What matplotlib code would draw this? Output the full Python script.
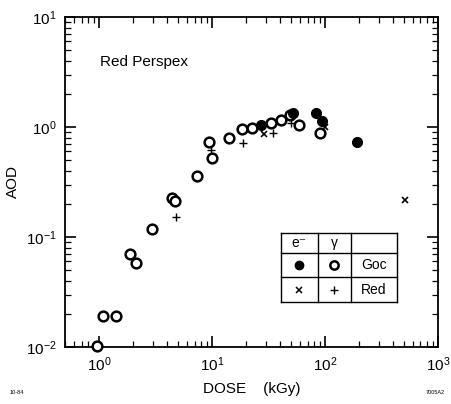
import matplotlib
matplotlib.use("Agg")
import matplotlib.pyplot as plt
from matplotlib.lines import Line2D

plt.rcParams['font.family'] = ['Liberation Sans', 'DejaVu Sans']
plt.rcParams['mathtext.fontset'] = 'custom'
plt.rcParams['mathtext.rm'] = 'Liberation Sans'

# Gamma, Goc (open circles)
goc_gamma_dose = [0.96, 1.08, 1.41, 1.88, 2.12, 2.94, 4.43, 4.71, 7.37, 9.4, 10.0,
                  14.1, 18.4, 22.6, 33.2, 40.8, 49.0, 58.9, 90.0]
goc_gamma_aod = [0.0103, 0.019, 0.019, 0.070, 0.058, 0.118, 0.226, 0.212, 0.359, 0.73, 0.52,
                 0.79, 0.96, 0.98, 1.09, 1.16, 1.29, 1.04, 0.88]
# Electron, Goc (filled circles)
goc_e_dose = [27.4, 52.0, 83.0, 94.0, 191.0]
goc_e_aod = [1.04, 1.33, 1.33, 1.14, 0.73]
# Electron, Red (x)
red_e_dose = [28.7, 100.0, 510.0]
red_e_aod = [0.87, 1.0, 0.217]
# Gamma, Red (+)
red_gamma_dose = [4.8, 9.7, 18.8, 34.7, 50.0]
red_gamma_aod = [0.152, 0.62, 0.72, 0.88, 1.08]

fig = plt.figure(figsize=(4.52, 4.04), dpi=100)
ax = fig.add_axes([65/452, (404-347)/404, 373/452, 330/404])
ax.set_xscale('log')
ax.set_yscale('log')
ax.set_xlim(0.5, 1000)
ax.set_ylim(0.01, 10)

ax.plot(goc_gamma_dose, goc_gamma_aod, 'o', ms=7, mfc='white', mec='black', mew=1.8,
        ls='none', clip_on=False, zorder=3)
ax.plot(goc_e_dose, goc_e_aod, 'o', ms=7, mfc='black', mec='black', ls='none',
        clip_on=False, zorder=4)
ax.plot(red_e_dose, red_e_aod, 'x', ms=4.5, mew=1.2, color='black', ls='none', zorder=4)
ax.plot(red_gamma_dose, red_gamma_aod, '+', ms=6, mew=1.0, color='black', ls='none', zorder=4)

ax.tick_params(which='both', direction='in', top=True, right=True, labelsize=11, pad=6)
ax.tick_params(which='major', length=8, width=1.2)
ax.tick_params(which='minor', length=4, width=0.9)
for s in ax.spines.values():
    s.set_linewidth(1.3)

ax.set_xlabel('DOSE    (kGy)', fontsize=11, labelpad=6)
ax.set_ylabel('AOD', fontsize=11, labelpad=4)

ax.text(0.094, 0.864, 'Red Perspex', transform=ax.transAxes, fontsize=11, va='center', ha='left')

# Legend table
T = ax.transAxes
xl, x1, x2, xr = 0.579, 0.678, 0.767, 0.890
yt, y1, y2, yb = 0.345, 0.285, 0.212, 0.136
for (xa, ya, xb, yb_) in [(xl, yt, xr, yt), (xl, y1, xr, y1), (xl, y2, xr, y2), (xl, yb, xr, yb),
                           (xl, yt, xl, yb), (x1, yt, x1, yb), (x2, yt, x2, yb), (xr, yt, xr, yb)]:
    ax.add_line(Line2D([xa, xb], [ya, yb_], transform=T, color='black', lw=1.0))
cx0, cx1, cx2 = (xl + x1) / 2, (x1 + x2) / 2, (x2 + xr) / 2
r0, r1, r2 = (yt + y1) / 2, (y1 + y2) / 2, (y2 + yb) / 2
ax.text(cx0, r0, 'e\u207b', transform=T, ha='center', va='center', fontsize=10)
ax.text(cx1, r0, '\u03b3', transform=T, ha='center', va='center', fontsize=10)
ax.plot([cx0], [r1], 'o', ms=6, mfc='black', mec='black', transform=T)
ax.plot([cx1], [r1], 'o', ms=6, mfc='white', mec='black', mew=1.8, transform=T)
ax.text(cx2, r1, 'Goc', transform=T, ha='center', va='center', fontsize=10)
ax.plot([cx0], [r2], 'x', ms=4, mew=1.1, color='black', transform=T)
ax.plot([cx1], [r2], '+', ms=6, mew=1.0, color='black', transform=T)
ax.text(cx2, r2, 'Red', transform=T, ha='center', va='center', fontsize=10)

fig.text(10/452, 1 - 393/404, '10-84', fontsize=4, ha='left', va='center')
fig.text(445/452, 1 - 393/404, '7005A2', fontsize=4, ha='right', va='center')

fig.savefig('out.png', dpi=100)
